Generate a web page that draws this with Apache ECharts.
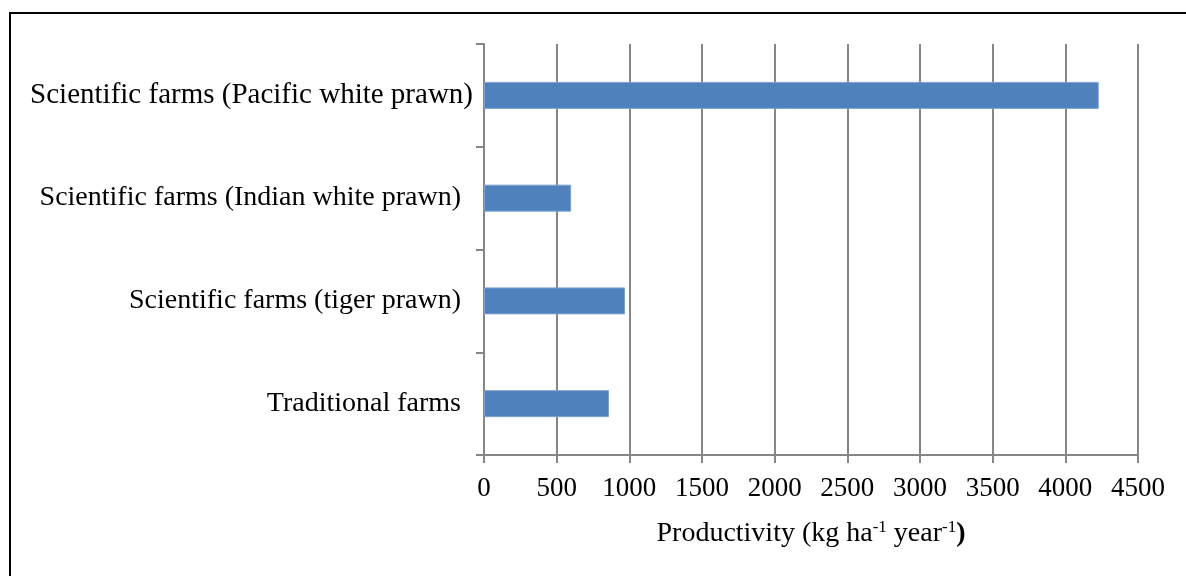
<!DOCTYPE html>
<html>
<head>
<meta charset="utf-8">
<script src="https://cdn.jsdelivr.net/npm/echarts@6/dist/echarts.min.js"></script>
<style>
html,body{margin:0;padding:0;background:#fff;}
#chart{width:1186px;height:576px;}
</style>
</head>
<body>
<div id="chart"></div>
<script>
const categories = ['Traditional farms', 'Scientific farms (tiger prawn)', 'Scientific farms (Indian white prawn)', 'Scientific farms (Pacific white prawn)'];
const productivity = [860, 970, 600, 4230];
const xTicks = {min: 0, max: 4500, interval: 500};

const chart = echarts.init(document.getElementById('chart'));
const serif = '"Liberation Serif", "Times New Roman", serif';
const gray = '#868686';
chart.setOption({
  animation: false,
  backgroundColor: '#fff',
  grid: {left: 484, right: 48, top: 44, bottom: 121, containLabel: false},
  graphic: [{
    type: 'polyline',
    shape: {points: [[10, 576], [10, 13], [1186, 13]]},
    style: {stroke: '#000', lineWidth: 2, fill: null}
  }],
  xAxis: {
    type: 'value',
    min: xTicks.min, max: xTicks.max, interval: xTicks.interval,
    axisLine: {show: true, lineStyle: {color: gray, width: 2}},
    axisTick: {show: true, length: 8, lineStyle: {color: gray, width: 2}},
    splitLine: {show: true, lineStyle: {color: gray, width: 2}},
    axisLabel: {color: '#000', fontFamily: serif, fontSize: 27, margin: 20,
      formatter: function (v) { return String(v); }},
    name: '{n|Productivity (kg ha}{s|-1}{n| year}{s|-1}{b|)}',
    nameLocation: 'middle',
    nameGap: 64,
    nameTextStyle: {
      rich: {
        n: {fontFamily: serif, fontSize: 28, color: '#000', lineHeight: 30},
        s: {fontFamily: serif, fontSize: 17, color: '#000', verticalAlign: 'top', lineHeight: 30},
        b: {fontFamily: serif, fontSize: 28, color: '#000', fontWeight: 'bold', lineHeight: 30}
      }
    }
  },
  yAxis: {
    type: 'category',
    data: categories,
    axisLine: {show: true, lineStyle: {color: gray, width: 2}},
    axisTick: {show: true, length: 8, lineStyle: {color: gray, width: 2}},
    splitLine: {show: false},
    axisLabel: {
      color: '#000', fontFamily: serif, fontSize: 28, margin: 11,
      formatter: function (v, i) { return i === 3 ? '{a|' + v + '}' : '{p|' + v + '}'; },
      rich: {
        a: {fontFamily: serif, fontSize: 29, color: '#000'},
        p: {fontFamily: serif, fontSize: 28, color: '#000', padding: [0, 12, 0, 0]}
      }
    }
  },
  series: [{
    type: 'bar',
    data: productivity,
    barWidth: 27,
    itemStyle: {color: '#4F81BD', borderColor: '#7FA3D0', borderWidth: 1}
  }]
});
</script>
</body>
</html>
